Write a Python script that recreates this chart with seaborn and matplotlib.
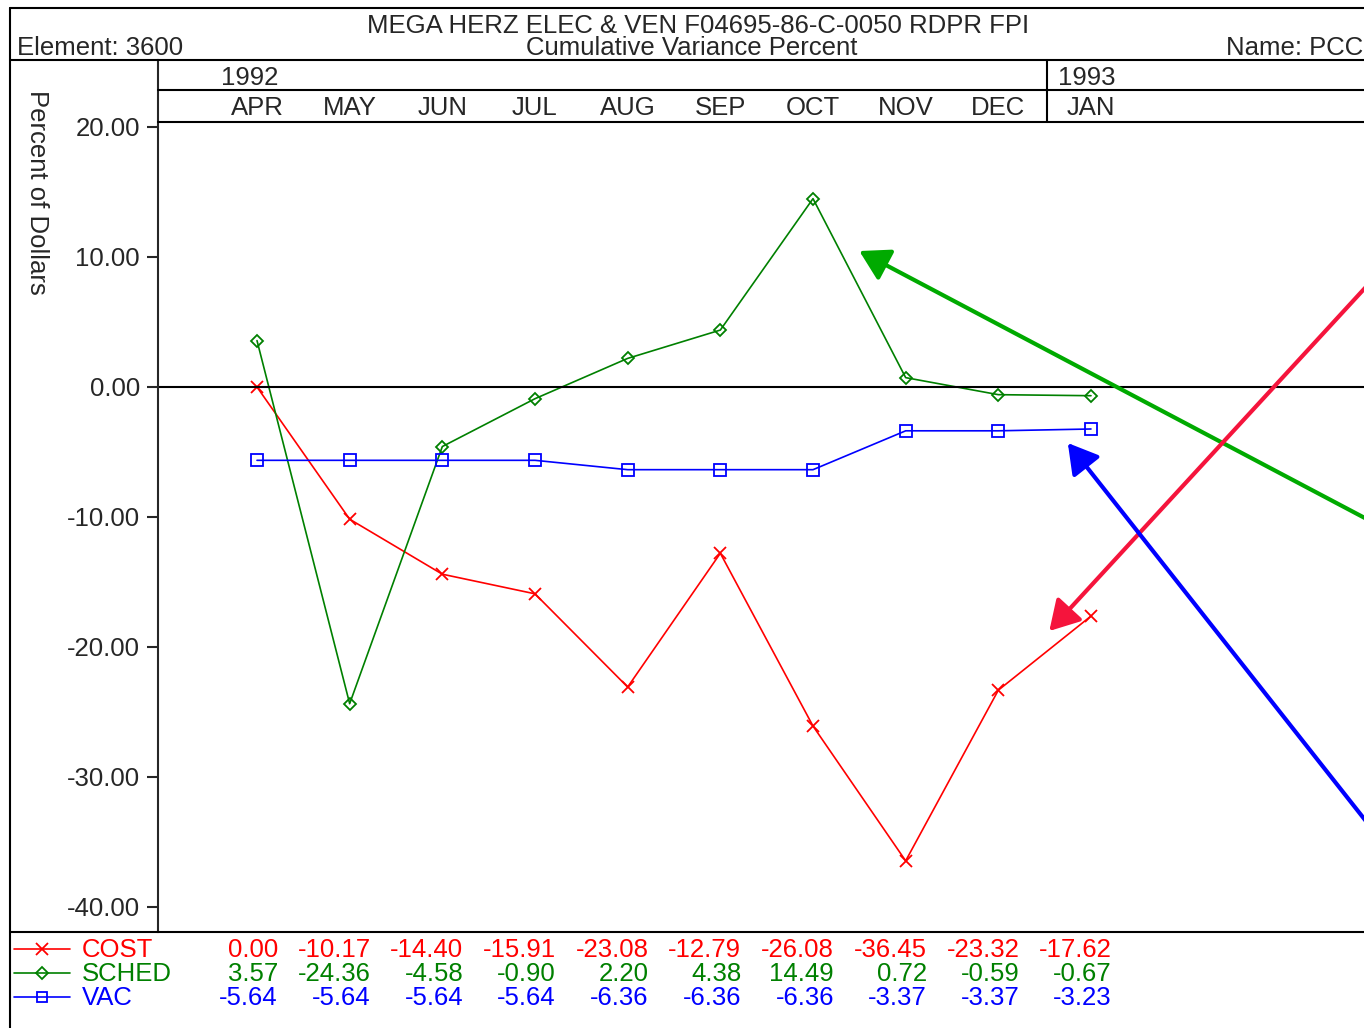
import numpy as np
import pandas as pd
import matplotlib.pyplot as plt
import matplotlib.transforms as mtransforms
from matplotlib.lines import Line2D
import seaborn as sns

# --- dados ---
meses = ['APR', 'MAY', 'JUN', 'JUL', 'AUG', 'SEP', 'OCT', 'NOV', 'DEC', 'JAN']
cost = [0.00, -10.17, -14.40, -15.91, -23.08, -12.79, -26.08, -36.45, -23.32, -17.62]
sched = [3.57, -24.36, -4.58, -0.90, 2.20, 4.38, 14.49, 0.72, -0.59, -0.67]
vac = [-5.64, -5.64, -5.64, -5.64, -6.36, -6.36, -6.36, -3.37, -3.37, -3.23]
series_nomes = ['COST', 'SCHED', 'VAC']
yticks = [20, 10, 0, -10, -20, -30, -40]

df = pd.DataFrame({'idx': np.arange(len(meses)), 'COST': cost, 'SCHED': sched, 'VAC': vac})

sns.set_style("white")
plt.rcParams['font.family'] = ['Liberation Sans', 'DejaVu Sans']
FS = 18.5

W, H = 1364, 1028
fig = plt.figure(figsize=(W / 100, H / 100), dpi=100)

def fx(px):
    return px / W

def fy(py):
    return 1 - py / H

# eixos: x de 158 até a borda, y de 60 até 932
ax = fig.add_axes([fx(158), fy(932), fx(W - 158), (932 - 60) / H])
passo = (1091 - 257) / 9.0
ax.set_xlim((158 - 257) / passo, (W - 257) / passo)
ax.set_ylim(-40 - 25 / 13.0, 20 + 67 / 13.0)

estilos = {
    'COST': dict(color='#ff0000', marker='x', markersize=9, markerfacecolor='#ff0000',
                 markeredgecolor='#ff0000', markeredgewidth=1.3),
    'SCHED': dict(color='#008000', marker='D', markersize=6.5, markerfacecolor='none',
                  markeredgecolor='#008000', markeredgewidth=1.3),
    'VAC': dict(color='#0000ff', marker='s', markersize=8, markerfacecolor='none',
                markeredgecolor='#0000ff', markeredgewidth=1.3),
}
for nome in series_nomes:
    sns.lineplot(data=df, x='idx', y=nome, ax=ax, linewidth=1.2, legend=False, **estilos[nome])

ax.axhline(0, color='black', lw=1.5)

ax.set_yticks(yticks)
ax.set_yticklabels([f'{v:.2f}' for v in yticks], fontsize=FS)
ax.set_xticks([])
ax.set_xlabel('')
ax.set_ylabel('')
ax.tick_params(axis='y', direction='out', length=8, width=1.5, pad=5, left=True)
for s in ['top', 'right', 'bottom']:
    ax.spines[s].set_visible(False)
ax.spines['left'].set_linewidth(1.5)

# setas
seta = '-|>,head_length=0.6,head_width=0.35'
ax.annotate('', xy=(6.50, 10.46), xytext=(12.2, -11.0),
            arrowprops=dict(arrowstyle=seta, lw=3, color='#00aa00', mutation_scale=30,
                            shrinkA=0, shrinkB=0))
ax.annotate('', xy=(8.55, -18.77), xytext=(12.2, 9.5),
            arrowprops=dict(arrowstyle=seta, lw=3, color='#f5143c', mutation_scale=30,
                            shrinkA=0, shrinkB=0))
ax.annotate('', xy=(8.75, -4.31), xytext=(12.2, -35.5),
            arrowprops=dict(arrowstyle=seta, lw=3, color='#0000ff', mutation_scale=30,
                            shrinkA=0, shrinkB=0))

# molduras
def linha(x0, y0, x1, y1, lw=1.5):
    fig.add_artist(Line2D([fx(x0), fx(x1)], [fy(y0), fy(y1)], color='black', lw=lw))

linha(10, 8, W, 8)
linha(10, 8, 10, H)
linha(10, 60, W, 60)
linha(10, 932, W, 932)
linha(158, 90, W, 90)
linha(158, 122, W, 122)
linha(1047, 60, 1047, 122)

# cabeçalho
fig.text(fx(698), fy(26), 'MEGA HERZ ELEC & VEN F04695-86-C-0050 RDPR FPI', ha='center', va='center', fontsize=FS)
fig.text(fx(692), fy(48), 'Cumulative Variance Percent', ha='center', va='center', fontsize=FS)
fig.text(fx(17), fy(48), 'Element: 3600', ha='left', va='center', fontsize=FS)
fig.text(fx(1226), fy(48), 'Name: PCC', ha='left', va='center', fontsize=FS)
fig.text(fx(37), fy(90), 'Percent of Dollars', rotation=270, ha='center', va='top', fontsize=FS)

trans = mtransforms.blended_transform_factory(ax.transData, fig.transFigure)
fig.text(fx(221), fy(78), '1992', ha='left', va='center', fontsize=FS)
fig.text(fx(1058), fy(78), '1993', ha='left', va='center', fontsize=FS)
for i, m in enumerate(meses):
    ax.text(i, fy(108), m, transform=trans, ha='center', va='center', fontsize=FS)

# tabela de dados
linhas_y = [950, 974, 998]
valores = {'COST': cost, 'SCHED': sched, 'VAC': vac}
for nome, py in zip(series_nomes, linhas_y):
    est = estilos[nome]
    cor = est['color']
    fig.add_artist(Line2D([fx(14), fx(70)], [fy(py - 1), fy(py - 1)], color=cor, lw=1.2))
    fig.add_artist(Line2D([fx(42)], [fy(py - 1)], color=cor, marker=est['marker'],
                          markersize=est['markersize'] * 0.9,
                          markerfacecolor=est['markerfacecolor'],
                          markeredgecolor=cor, markeredgewidth=1.3, lw=0))
    fig.text(fx(82), fy(py), nome, ha='left', va='center', fontsize=FS, color=cor)
    for i, v in enumerate(valores[nome]):
        ax.text(i + 21 / passo, fy(py), f'{v:.2f}', transform=trans, ha='right', va='center',
                fontsize=FS, color=cor)

plt.savefig('out.png', dpi=100)
